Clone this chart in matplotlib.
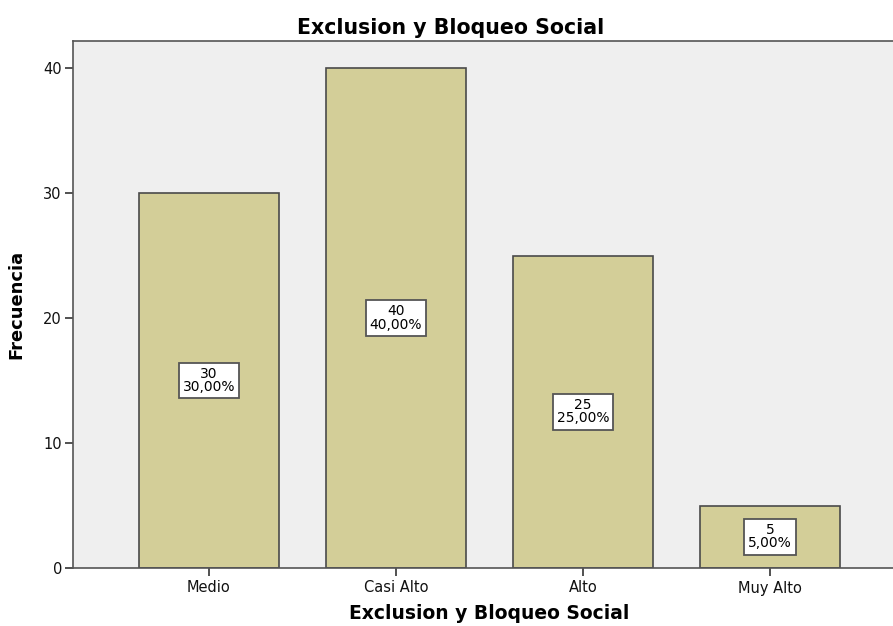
import matplotlib
matplotlib.use('Agg')
import matplotlib.pyplot as plt

plt.rcParams['font.family'] = ['DejaVu Sans']

categorias = ['Medio', 'Casi Alto', 'Alto', 'Muy Alto']
frecuencias = [30, 40, 25, 5]
porcentajes = ['30,00%', '40,00%', '25,00%', '5,00%']

titulo = 'Exclusion y Bloqueo Social'

fig = plt.figure(figsize=(8.93, 6.26), dpi=100)
ax = fig.add_axes([73 / 893, 58 / 626, 820 / 893, 527 / 626])
ax.set_facecolor('#efefef')

x = list(range(len(categorias)))
ax.bar(x, frecuencias, width=0.75, color='#d3ce98', edgecolor='#4a4a4a', linewidth=1.2, zorder=2)

# etiquetas centradas en cada barra
for xi, f, p in zip(x, frecuencias, porcentajes):
    ax.text(xi, f / 2, f'{f}\n{p}', ha='center', va='center', fontsize=10,
            linespacing=0.95, zorder=3,
            bbox=dict(boxstyle='square,pad=0.3', facecolor='white', edgecolor='#555555', linewidth=1.3))

ax.set_xlim(-0.727, 3.658)
ax.set_ylim(0, 42.16)
ax.set_yticks([0, 10, 20, 30, 40])
ax.set_xticks(x)
ax.set_xticklabels(categorias)
ax.tick_params(axis='both', labelsize=10.5, length=6, width=1.2, color='#333333', labelcolor='#111111')
ax.tick_params(axis='x', pad=3)
ax.tick_params(axis='y', pad=2)

for side in ['left', 'bottom', 'top']:
    ax.spines[side].set_color('#555555')
    ax.spines[side].set_linewidth(1.2)
ax.spines['right'].set_visible(False)

ax.set_title(titulo, fontsize=14.8, fontweight='bold', x=0.461, pad=5)
ax.set_xlabel(titulo, fontsize=13.5, fontweight='bold')
ax.xaxis.set_label_coords(0.507, -0.068)
ax.set_ylabel('Frecuencia', fontsize=12.9, fontweight='bold')
ax.yaxis.set_label_coords(-0.058, 0.5)

fig.savefig('out.png', dpi=100)
